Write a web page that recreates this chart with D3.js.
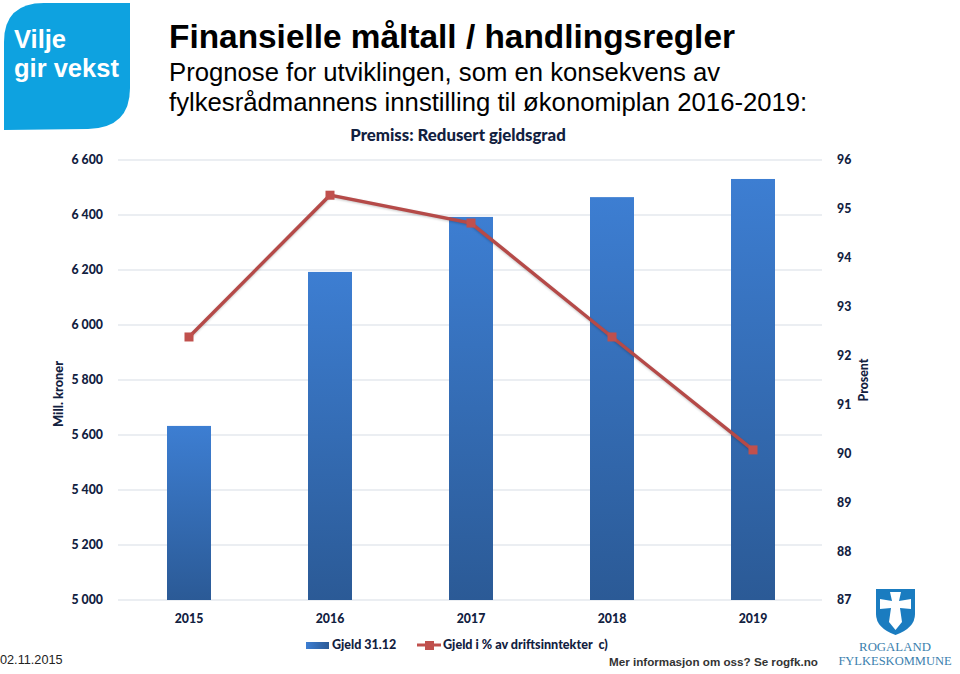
<!DOCTYPE html>
<html><head><meta charset="utf-8">
<script src="https://cdn.jsdelivr.net/npm/d3@7"></script>
<style>html,body{margin:0;padding:0;background:#fff}svg{display:block}</style></head>
<body><svg id="c" width="960" height="674"></svg>
<script>
const years = ["2015","2016","2017","2018","2019"];
const debt = [5633,6193,6393,6465,6531];
const pct = [92.38,95.28,94.71,92.38,90.07];
const leftTicks = [5000,5200,5400,5600,5800,6000,6200,6400,6600];
const rightTicks = [87,88,89,90,91,92,93,94,95,96];
const titleLines = ["Prognose for utviklingen, som en konsekvens av","fylkesrådmannens innstilling til økonomiplan 2016-2019:"];

const svg = d3.select("#c");
const labelFont = "Lato, 'Open Sans', sans-serif", head = "'Liberation Sans', Arial, sans-serif", navy = "#12213f";
const x = d3.scaleBand().domain(years).range([118.5,823.5]).paddingInner(0.688).paddingOuter(0.344);
const yL = d3.scaleLinear().domain([5000,6600]).range([600,160]);
const yR = d3.scaleLinear().domain([87,96]).range([600,160]);
const fmt = v => d3.format(",")(v).replace(","," ");

const defs = svg.append("defs");
const g = defs.append("linearGradient").attr("id","bar").attr("x1",0).attr("x2",0).attr("y1",0).attr("y2",1);
g.append("stop").attr("offset",0).attr("stop-color","#3d7ed2");
g.append("stop").attr("offset",1).attr("stop-color","#2b5a96");
const lg = defs.append("linearGradient").attr("id","barH");
lg.append("stop").attr("offset",0).attr("stop-color","#3d7ed2");
lg.append("stop").attr("offset",1).attr("stop-color","#2b5a96");

// Logo
svg.append("path").attr("d","M4 130 L4 42 Q4 3 44 3 L130 3 L130 88 Q130 128 88 129 Z").attr("fill","#0ea2e0");
svg.append("g").selectAll("text").data([["Vilje",48],["gir vekst",77]]).join("text")
  .attr("x",14).attr("y",d=>d[1]).text(d=>d[0])
  .attr("font-family",head).attr("font-weight",700).attr("font-size",25.5).attr("fill","#fff");

// Heading
svg.append("text").attr("x",169).attr("y",48).text("Finansielle måltall / handlingsregler")
  .attr("font-family",head).attr("font-weight",700).attr("font-size",33.4).attr("fill","#000");
svg.append("g").selectAll("text").data(titleLines).join("text")
  .attr("x",169).attr("y",(d,i)=>81+i*30).text(d=>d)
  .attr("font-family",head).attr("font-size",25.7).attr("fill","#000");
svg.append("text").attr("x",458).attr("y",141).attr("text-anchor","middle").text("Premiss: Redusert gjeldsgrad")
  .attr("font-family",labelFont).attr("font-weight",900).attr("font-size",16.8).attr("fill",navy);

// Grid
svg.append("g").selectAll("line").data(leftTicks).join("line")
  .attr("x1",118).attr("x2",822).attr("y1",d=>yL(d)).attr("y2",d=>yL(d))
  .attr("stroke","#e4e9ee").attr("stroke-width",1.4);

// Bars
svg.append("g").selectAll("rect").data(years).join("rect")
  .attr("x",d=>x(d)).attr("width",x.bandwidth())
  .attr("y",(d,i)=>yL(debt[i])).attr("height",(d,i)=>600-yL(debt[i]))
  .attr("fill","url(#bar)");

// Axes
const axL = svg.append("g").attr("transform","translate(106,0)").call(d3.axisLeft(yL).tickValues(leftTicks).tickFormat(fmt).tickSize(0));
const axR = svg.append("g").attr("transform","translate(837,0)").call(d3.axisRight(yR).tickValues(rightTicks).tickFormat(d3.format("d")).tickSize(0).tickPadding(0));
const axB = svg.append("g").attr("transform","translate(0,610)").call(d3.axisBottom(x).tickSize(0).tickPadding(4));
[axL,axR,axB].forEach(a=>{a.select(".domain").remove();
  a.selectAll("text").attr("font-family",labelFont).attr("font-weight",900).attr("font-size",12.3).attr("fill",navy);});

// Line
const line = d3.line().x((d,i)=>x(years[i])+x.bandwidth()/2).y(d=>yR(d));
svg.append("path").datum(pct).attr("d",line).attr("fill","none").attr("stroke","#b54a48").attr("stroke-width",3.4)
  .style("filter","drop-shadow(0 1px 1px rgba(0,0,0,.22))");
svg.append("g").selectAll("rect").data(pct).join("rect")
  .attr("x",(d,i)=>x(years[i])+x.bandwidth()/2-4.5).attr("y",d=>yR(d)-4.5).attr("width",9).attr("height",9)
  .attr("fill","#c0504d");

// Axis titles
svg.append("text").attr("transform","translate(63,394) rotate(-90)").attr("text-anchor","middle").text("Mill. kroner")
  .attr("font-family",labelFont).attr("font-weight",900).attr("font-size",12.8).attr("fill",navy);
svg.append("text").attr("transform","translate(868,380) rotate(-90)").attr("text-anchor","middle").text("Prosent")
  .attr("font-family",labelFont).attr("font-weight",900).attr("font-size",12.3).attr("fill",navy);

// Legend
svg.append("rect").attr("x",306).attr("y",642).attr("width",23).attr("height",7).attr("fill","url(#barH)");
svg.append("text").attr("x",332).attr("y",649).text("Gjeld 31.12")
  .attr("font-family",labelFont).attr("font-weight",900).attr("font-size",12.5).attr("fill",navy);
svg.append("line").attr("x1",417).attr("x2",441).attr("y1",645).attr("y2",645).attr("stroke","#c0504d").attr("stroke-width",3);
svg.append("rect").attr("x",425).attr("y",641).attr("width",9).attr("height",9).attr("fill","#c0504d");
svg.append("text").attr("x",443).attr("y",649).attr("xml:space","preserve").text("Gjeld i % av driftsinntekter  c)")
  .attr("font-family",labelFont).attr("font-weight",900).attr("font-size",12.6).attr("fill",navy);

// Footer
svg.append("text").attr("x",0).attr("y",664).text("02.11.2015").attr("font-family",head).attr("font-size",12.7).attr("fill","#222");
svg.append("text").attr("x",609).attr("y",666).text("Mer informasjon om oss? Se rogfk.no").attr("font-family",head).attr("font-weight",700).attr("font-size",11.65).attr("fill","#333");

// Shield
svg.append("path").attr("d","M876 589 L915 589 L915 614 Q915 628 895.5 635 Q876 628 876 614 Z").attr("fill","#1a7cc0");
svg.append("path").attr("d","M890 592 L901 592 L899 601 L911 599 L911 609 L900 608 L902 622 L895.5 630 L889 622 L891 608 L880 609 L880 599 L892 601 Z").attr("fill","#fff");
svg.append("text").attr("x",895).attr("y",651).attr("text-anchor","middle").text("ROGALAND").attr("font-family","'Liberation Serif', serif").attr("font-size",12.8).attr("fill","#3b7fae");
svg.append("text").attr("x",895).attr("y",665).attr("text-anchor","middle").text("FYLKESKOMMUNE").attr("font-family","'Liberation Serif', serif").attr("font-size",12.5).attr("fill","#3b7fae");
</script></body></html>
